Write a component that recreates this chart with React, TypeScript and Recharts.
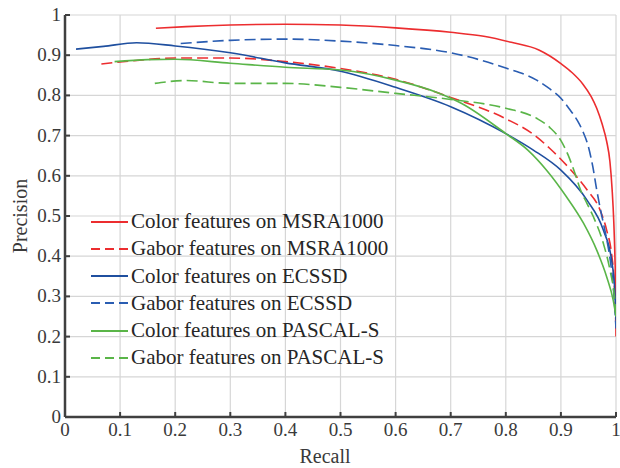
import React from 'react';
import { LineChart, Line, XAxis, YAxis, CartesianGrid, Legend } from 'recharts';

const tickValues = [0, 0.1, 0.2, 0.3, 0.4, 0.5, 0.6, 0.7, 0.8, 0.9, 1];

const seriesNames = [
  'Color features on MSRA1000',
  'Gabor features on MSRA1000',
  'Color features on ECSSD',
  'Gabor features on ECSSD',
  'Color features on PASCAL-S',
  'Gabor features on PASCAL-S',
];

const colorMsraRecall = [0.165, 0.22, 0.3, 0.4, 0.5, 0.6, 0.7, 0.76, 0.81, 0.86, 0.88, 0.9, 0.92, 0.94, 0.955, 0.965, 0.975, 0.983, 0.989, 0.993, 0.996, 0.998, 0.9995, 1.0];
const colorMsraPrecision = [0.967, 0.971, 0.975, 0.977, 0.975, 0.968, 0.957, 0.947, 0.932, 0.913, 0.898, 0.879, 0.857, 0.828, 0.797, 0.768, 0.728, 0.686, 0.635, 0.565, 0.485, 0.4, 0.3, 0.2];

const gaborMsraRecall = [0.066, 0.13, 0.2, 0.3, 0.4, 0.5, 0.6, 0.7, 0.8, 0.85, 0.88, 0.917, 0.947, 0.971, 0.983, 0.992, 0.997, 1.0];
const gaborMsraPrecision = [0.878, 0.887, 0.893, 0.893, 0.884, 0.867, 0.84, 0.795, 0.742, 0.703, 0.668, 0.616, 0.566, 0.515, 0.465, 0.405, 0.33, 0.22];

const colorEcssdRecall = [0.02, 0.07, 0.13, 0.2, 0.3, 0.4, 0.5, 0.6, 0.7, 0.8, 0.85, 0.9, 0.947, 0.977, 0.992, 0.998, 1.0];
const colorEcssdPrecision = [0.915, 0.922, 0.931, 0.923, 0.906, 0.881, 0.86, 0.82, 0.772, 0.705, 0.664, 0.614, 0.54, 0.465, 0.39, 0.31, 0.24];

const gaborEcssdRecall = [0.21, 0.3, 0.4, 0.5, 0.6, 0.7, 0.8, 0.856, 0.88, 0.9, 0.915, 0.93, 0.94, 0.95, 0.958, 0.965, 0.972, 0.98, 0.987, 0.993, 0.997, 1.0];
const gaborEcssdPrecision = [0.929, 0.937, 0.94, 0.935, 0.924, 0.906, 0.868, 0.838, 0.816, 0.793, 0.767, 0.737, 0.71, 0.672, 0.622, 0.565, 0.515, 0.463, 0.413, 0.352, 0.29, 0.22];

const colorPascalRecall = [0.09, 0.15, 0.2, 0.3, 0.4, 0.5, 0.6, 0.68, 0.72, 0.8, 0.84, 0.874, 0.91, 0.941, 0.965, 0.983, 0.995, 1.0];
const colorPascalPrecision = [0.884, 0.889, 0.89, 0.88, 0.87, 0.863, 0.838, 0.805, 0.78, 0.705, 0.664, 0.614, 0.548, 0.482, 0.415, 0.349, 0.29, 0.25];

const gaborPascalRecall = [0.163, 0.22, 0.3, 0.4, 0.5, 0.6, 0.7, 0.8, 0.856, 0.88, 0.899, 0.913, 0.925, 0.935, 0.947, 0.959, 0.977, 0.989, 0.997, 1.0];
const gaborPascalPrecision = [0.83, 0.837, 0.83, 0.83, 0.82, 0.805, 0.79, 0.768, 0.743, 0.72, 0.69, 0.652, 0.608, 0.567, 0.532, 0.498, 0.432, 0.366, 0.3, 0.25];

const RED = '#ec2d2f';
const BLUE = '#1f4f9f';
const BLUE_D = '#2a5db2';
const GREEN = '#5ab548';
const DASH = '11 5';

const zip = (r: number[], p: number[]) => r.map((x, i) => ({ r: x, p: p[i] }));

const series = [
  { name: seriesNames[0], data: zip(colorMsraRecall, colorMsraPrecision), color: RED, dash: undefined as string | undefined },
  { name: seriesNames[1], data: zip(gaborMsraRecall, gaborMsraPrecision), color: RED, dash: DASH },
  { name: seriesNames[2], data: zip(colorEcssdRecall, colorEcssdPrecision), color: BLUE, dash: undefined },
  { name: seriesNames[3], data: zip(gaborEcssdRecall, gaborEcssdPrecision), color: BLUE_D, dash: DASH },
  { name: seriesNames[4], data: zip(colorPascalRecall, colorPascalPrecision), color: GREEN, dash: undefined },
  { name: seriesNames[5], data: zip(gaborPascalRecall, gaborPascalPrecision), color: GREEN, dash: DASH },
];

const FONT = '"Liberation Serif", "Times New Roman", serif';
const AXIS = '#404040';
const TEXT = '#3a3a3a';

const BottomTick = (props: any) => {
  const { x, y, payload } = props;
  return (
    <g>
      <line x1={x} y1={y} x2={x} y2={y - 5} stroke={AXIS} strokeWidth={2} />
      <text x={x} y={y + 19} textAnchor="middle" fontFamily={FONT} fontSize={19} fill={TEXT}>
        {String(payload.value)}
      </text>
    </g>
  );
};

const TopTick = (props: any) => {
  const { x, y } = props;
  return <line x1={x} y1={y} x2={x} y2={y + 5} stroke={AXIS} strokeWidth={2} />;
};

const LeftTick = (props: any) => {
  const { x, y, payload } = props;
  return (
    <g>
      <line x1={x} y1={y} x2={x + 5} y2={y} stroke={AXIS} strokeWidth={2} />
      <text x={x - 4} y={y + 6} textAnchor="end" fontFamily={FONT} fontSize={19} fill={TEXT}>
        {String(payload.value)}
      </text>
    </g>
  );
};

const RightTick = (props: any) => {
  const { x, y } = props;
  return <line x1={x} y1={y} x2={x - 5} y2={y} stroke={AXIS} strokeWidth={2} />;
};

const LegendContent = () => (
  <div style={{ fontFamily: FONT, fontSize: 21, color: '#262626' }}>
    {series.map((s) => (
      <div key={s.name} style={{ display: 'flex', alignItems: 'center', height: 27.25, whiteSpace: 'nowrap' }}>
        <svg width={40} height={10} style={{ display: 'block' }}>
          <line x1={0} y1={5} x2={37} y2={5} stroke={s.color} strokeWidth={2} strokeDasharray={s.dash ? '9 5' : undefined} />
        </svg>
        <span>{s.name}</span>
      </div>
    ))}
  </div>
);

export default function App() {
  return (
    <div style={{ position: 'absolute', left: 0, top: 0, width: 620, height: 468, background: '#fff' }}>
      <LineChart width={620} height={468} margin={{ top: 15, right: 4, left: 0, bottom: 0 }}>
        <CartesianGrid stroke="#d6d6d6" strokeWidth={1.2} />
        {series.map((s) => (
          <Line
            key={s.name}
            name={s.name}
            data={s.data}
            dataKey="p"
            type="monotone"
            stroke={s.color}
            strokeWidth={1.6}
            strokeDasharray={s.dash}
            dot={false}
            activeDot={false}
            isAnimationActive={false}
          />
        ))}
        <XAxis
          dataKey="r"
          type="number"
          domain={[0, 1]}
          ticks={tickValues}
          allowDataOverflow
          height={51}
          tickSize={0}
          tickMargin={0}
          tickLine={false}
          axisLine={{ stroke: AXIS, strokeWidth: 2.5 }}
          tick={<BottomTick />}
          interval={0}
        />
        <XAxis
          xAxisId="top"
          orientation="top"
          dataKey="r"
          type="number"
          domain={[0, 1]}
          ticks={tickValues}
          allowDataOverflow
          height={0}
          tickSize={0}
          tickMargin={0}
          tickLine={false}
          axisLine={{ stroke: AXIS, strokeWidth: 2.5 }}
          tick={<TopTick />}
          interval={0}
        />
        <YAxis
          type="number"
          domain={[0, 1]}
          ticks={tickValues}
          allowDataOverflow
          width={65}
          tickSize={0}
          tickMargin={0}
          tickLine={false}
          axisLine={{ stroke: AXIS, strokeWidth: 2.5 }}
          tick={<LeftTick />}
          interval={0}
        />
        <YAxis
          yAxisId="right"
          orientation="right"
          type="number"
          domain={[0, 1]}
          ticks={tickValues}
          allowDataOverflow
          width={0}
          tickSize={0}
          tickMargin={0}
          tickLine={false}
          axisLine={{ stroke: AXIS, strokeWidth: 2.5 }}
          tick={<RightTick />}
          interval={0}
        />
        <Legend
          layout="vertical"
          align="center"
          verticalAlign="middle"
          content={<LegendContent />}
          wrapperStyle={{ left: 91, top: 208, width: 330, height: 170 }}
        />
        <text x={325} y={463} textAnchor="middle" fontFamily={FONT} fontSize={20} fill={TEXT}>
          Recall
        </text>
        <text
          x={27}
          y={216}
          textAnchor="middle"
          fontFamily={FONT}
          fontSize={20}
          fill={TEXT}
          transform="rotate(-90 27 216)"
        >
          Precision
        </text>
      </LineChart>
    </div>
  );
}
